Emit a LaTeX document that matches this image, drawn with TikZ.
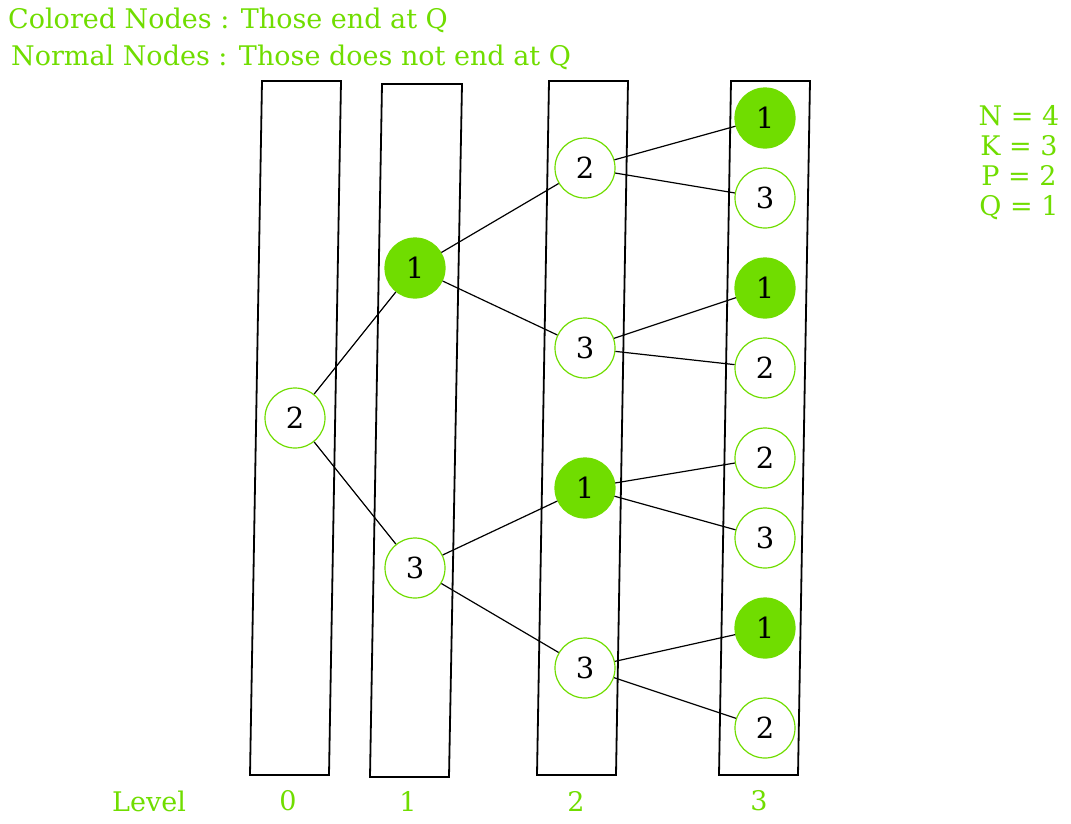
\documentclass[tikz,border=0pt]{standalone}
\usepackage{fontspec}
\setmainfont{DejaVu Serif}
\usepackage{tikz}
\usetikzlibrary{calc}
\usetikzlibrary{shapes}
\definecolor{qgreen}{RGB}{112,221,0}

\begin{document}
\begin{tikzpicture}[x=1pt, y=-1pt,
        node_style/.style={circle,draw=qgreen,fill=white,line width=1.2pt,minimum size=60pt,inner sep=0pt,font=\fontsize{29}{29}\selectfont},
        selected_node_style/.style={circle,draw=qgreen,fill=qgreen,line width=1.2pt,minimum size=60pt,inner sep=0pt,font=\fontsize{29}{29}\selectfont},
        edge_style/.style={draw=black, line width=1.2pt},
        level_style/.style={draw=black, line width=1.8pt},
        text_style/.style={text=qgreen,inner sep=0pt,font=\fontsize{27}{30}\selectfont}]

        \useasboundingbox (0,0) rectangle (1071,823);

        % level columns
        \draw [level_style] (262,81) -- (341,81) -- (329,775) -- (250,775) -- cycle;
        \draw [level_style] (382,84) -- (462,84) -- (449,777) -- (370,777) -- cycle;
        \draw [level_style] (549,81) -- (628,81) -- (616,775) -- (537,775) -- cycle;
        \draw [level_style] (731,81) -- (810,81) -- (798,775) -- (719,775) -- cycle;

        \node [node_style](a1) at (295,418) {2};

        \node [selected_node_style](b1) at (415,268) {1};
        \node [node_style](b2) at (415,568) {3};

        \node [node_style](c1) at (585,168) {2};
        \node [node_style](c2) at (585,348) {3};
        \node [selected_node_style](c3) at (585,488) {1};
        \node [node_style](c4) at (585,668) {3};

        \node [selected_node_style](d1) at (765,118) {1};
        \node [node_style](d2) at (765,198) {3};
        \node [selected_node_style](d3) at (765,288) {1};
        \node [node_style](d4) at (765,368) {2};
        \node [node_style](d5) at (765,458) {2};
        \node [node_style](d6) at (765,538) {3};
        \node [selected_node_style](d7) at (765,628) {1};
        \node [node_style](d8) at (765,728) {2};

        \draw [edge_style] (a1) edge (b1);
        \draw [edge_style] (a1) edge (b2);

        \draw [edge_style] (b1) edge (c1);
        \draw [edge_style] (b1) edge (c2);
        \draw [edge_style] (b2) edge (c3);
        \draw [edge_style] (b2) edge (c4);

        \draw [edge_style] (c1) edge (d1);
        \draw [edge_style] (c1) edge (d2);
        \draw [edge_style] (c2) edge (d3);
        \draw [edge_style] (c2) edge (d4);
        \draw [edge_style] (c3) edge (d5);
        \draw [edge_style] (c3) edge (d6);
        \draw [edge_style] (c4) edge (d7);
        \draw [edge_style] (c4) edge (d8);

        % legend
        \node [text_style,anchor=west](t1) at (8,20) {Colored Nodes : Those end at Q};
        \node [text_style,anchor=west](t2) at (11,57) {Normal Nodes : Those does not end at Q};

        \node [text_style,align=center](vals) at (1019,163) {N = 4\\K = 3\\P = 2\\Q = 1};

        \node [text_style](lv) at (149,801) {Level};
        \node [text_style](l0) at (288,801) {0};
        \node [text_style](l1) at (408,801) {1};
        \node [text_style](l2) at (576,801) {2};
        \node [text_style](l3) at (759,801) {3};

        \end{tikzpicture}
\end{document}
